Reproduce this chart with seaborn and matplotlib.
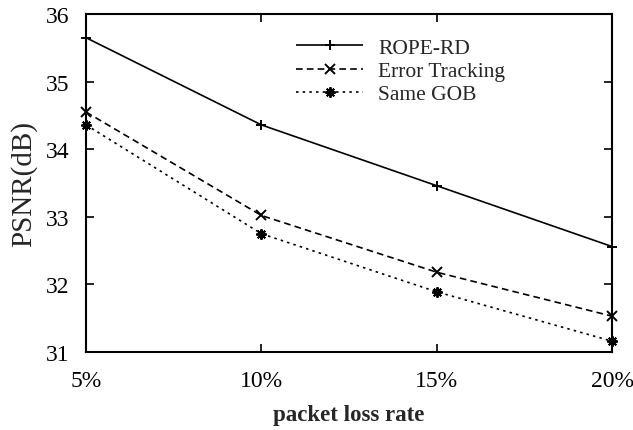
import matplotlib
matplotlib.use("Agg")
import matplotlib.pyplot as plt
import seaborn as sns
import pandas as pd

loss_rates = [5, 10, 15, 20]
tick_labels = ["5%", "10%", "15%", "20%"]
rope_rd = [35.65, 34.36, 33.46, 32.56]
error_tracking = [34.55, 33.02, 32.18, 31.53]
same_gob = [34.36, 32.75, 31.89, 31.16]
series_names = ["ROPE-RD", "Error Tracking", "Same GOB"]

sns.set_theme(style="ticks")
plt.rcParams['font.family'] = ['Liberation Serif', 'DejaVu Serif']

df = pd.DataFrame({
    "rate": loss_rates * 3,
    "psnr": rope_rd + error_tracking + same_gob,
    "method": [series_names[0]] * 4 + [series_names[1]] * 4 + [series_names[2]] * 4,
})

fig = plt.figure(figsize=(6.33, 4.31), dpi=100)
ax = fig.add_axes([0.136, 0.181, 0.831, 0.784])

sns.lineplot(
    data=df, x="rate", y="psnr", hue="method", style="method",
    palette={n: "black" for n in series_names},
    dashes={"ROPE-RD": (1, 0), "Error Tracking": (4, 2.5), "Same GOB": (1.5, 2.5)},
    markers={"ROPE-RD": "+", "Error Tracking": "x", "Same GOB": (8, 2, 0)},
    markersize=7.5, markeredgewidth=1.4, markeredgecolor="black",
    linewidth=1.2, ax=ax, legend="brief", clip_on=False,
)

ax.set_xlim(5, 20)
ax.set_ylim(31, 36)
ax.set_xticks(loss_rates)
ax.set_xticklabels(tick_labels)
ax.set_yticks([31, 32, 33, 34, 35, 36])
ax.tick_params(direction="in", top=True, right=True, length=6, width=1.2,
               labelsize=17, colors="black")
ax.tick_params(axis="x", pad=13)
ax.tick_params(axis="y", pad=12)
for s in ax.spines.values():
    s.set_linewidth(1.5)
    s.set_color("black")

ax.set_xlabel("packet loss rate", fontsize=16.5, fontweight="bold", labelpad=9)
ax.set_ylabel("PSNR(dB)", fontsize=21, labelpad=6)

leg = ax.legend(loc="upper left", bbox_to_anchor=(0.40, 0.93), frameon=False,
                fontsize=15.5, handlelength=3.1, handletextpad=0.7, labelspacing=0.15,
                borderaxespad=0, borderpad=0)

fig.savefig("out.png", dpi=100)
